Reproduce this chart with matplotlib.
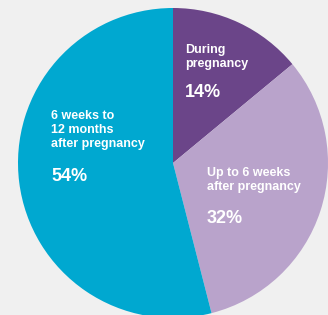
import matplotlib.pyplot as plt

# Data
labels = ['During\npregnancy', 'Up to 6 weeks\nafter pregnancy', '6 weeks to\n12 months\nafter pregnancy']
values = [14, 32, 54]
pct_labels = ['14%', '32%', '54%']
colors = ['#6b4589', '#b9a3cb', '#00a8d0']

W, H = 328, 315
fig = plt.figure(figsize=(W / 100, H / 100), dpi=100)
fig.patch.set_facecolor('#f0f0f0')
ax = fig.add_axes([0, 0, 1, 1])
ax.set_facecolor('#f0f0f0')

ax.pie(values, colors=colors, startangle=90, counterclock=False,
       center=(173, H - 163), radius=155, wedgeprops={'linewidth': 0},
       frame=True)
ax.set_xlim(0, W)
ax.set_ylim(0, H)
ax.set_aspect('equal')
ax.axis('off')

# Label positions (pixels from top-left)
label_pos = [(185, 44), (207, 167), (51, 110)]
pct_pos = [(185, 84), (207, 210), (51, 168)]

font = ['Liberation Sans', 'DejaVu Sans']
for lab, pct, (lx, ly), (px, py) in zip(labels, pct_labels, label_pos, pct_pos):
    ax.text(lx, H - ly, lab, color='white', fontsize=9, fontweight='bold',
            family=font, va='top', ha='left', linespacing=1.2)
    ax.text(px, H - py, pct, color='white', fontsize=13, fontweight='bold',
            family=font, va='top', ha='left')

fig.savefig('out.png', dpi=100, facecolor=fig.get_facecolor())
